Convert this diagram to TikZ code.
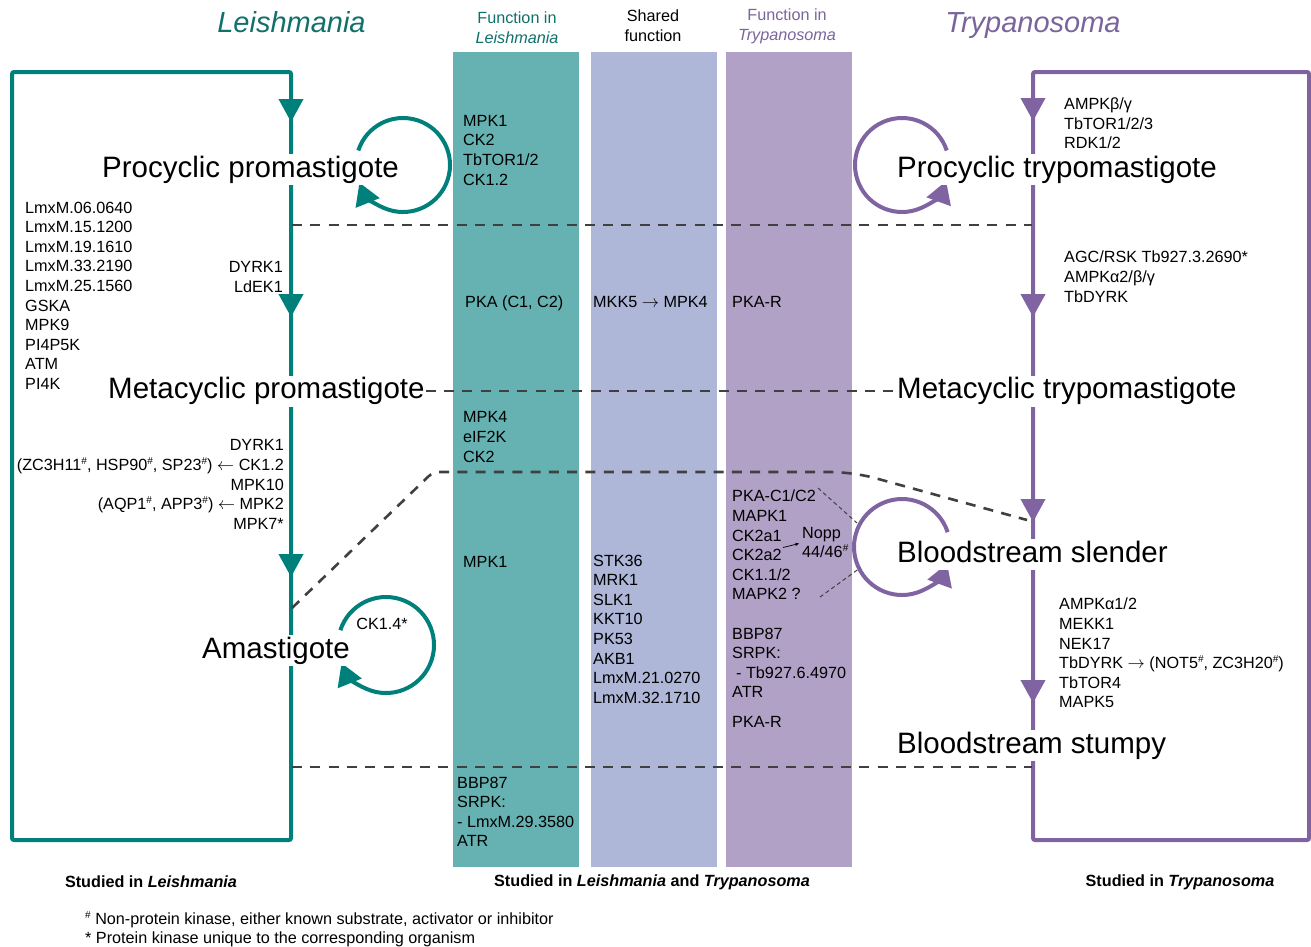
\documentclass[tikz,border=0pt]{standalone}
\usepackage{fontspec}
\setmainfont{Liberation Sans}
\usetikzlibrary{arrows.meta}
\definecolor{tealline}{RGB}{0,128,122}
\definecolor{tealtxt}{RGB}{16,112,106}
\definecolor{purpline}{RGB}{128,100,162}
\definecolor{purptxt}{RGB}{122,100,156}
\definecolor{tealcol}{RGB}{102,178,178}
\definecolor{lavcol}{RGB}{175,183,216}
\definecolor{purpcol}{RGB}{178,161,198}
\definecolor{dashgray}{RGB}{64,64,64}
\newcommand{\supHash}{\raisebox{6pt}{\fontsize{10}{10}\selectfont\#}}
\newcommand{\rarr}{\ensuremath{\rightarrow}}
\newcommand{\larr}{\ensuremath{\leftarrow}}
\begin{document}
\begin{tikzpicture}[x=1pt,y=-1pt,
  small/.style={font=\fontsize{16.2}{19.6}\selectfont, inner sep=0pt, align=left},
  stage/.style={font=\fontsize{29.5}{34}\selectfont, fill=white, inner xsep=1pt, inner ysep=2pt, text height=21pt, text depth=6pt, anchor=base west},
  titletext/.style={font=\fontsize{29}{34}\selectfont\itshape, inner sep=0pt, anchor=base},
  bottomtext/.style={font=\bfseries\fontsize{16.2}{19}\selectfont, inner sep=0pt},
  colbox/.style={draw=none, inner sep=0pt, minimum width=126pt, minimum height=815pt},
  frameT/.style={draw=tealline, line width=4pt, rounded corners=2pt},
  frameP/.style={draw=purpline, line width=4pt, rounded corners=2pt},
  loopT/.style={draw=tealline, line width=4pt, -{Triangle[length=22pt,width=25pt]}},
  loopP/.style={draw=purpline, line width=4pt, -{Triangle[length=22pt,width=25pt]}},
  varrowT/.style={draw=tealline, fill=tealline, line width=4pt, -{Triangle[length=23pt,width=24pt]}},
  varrowP/.style={draw=purpline, fill=purpline, line width=4pt, -{Triangle[length=23pt,width=24pt]}},
  dashline/.style={draw=dashgray, line width=2.6pt, dash pattern=on 10pt off 8.3pt},
  thindash/.style={draw=dashgray, line width=1pt, dash pattern=on 4pt off 3pt},
  tinyarrow/.style={draw=black, line width=0.7pt, -{Stealth[length=4pt,width=3.5pt]}}
]
\useasboundingbox (0,0) rectangle (1311,946);

% columns
\node[colbox, fill=tealcol] (colL) at (516,459.5) {};
\node[colbox, fill=lavcol] (colS) at (654,459.5) {};
\node[colbox, fill=purpcol] (colT) at (789,459.5) {};

% frames
\draw[frameT] (12,72) rectangle (291,840);
\draw[frameP] (1033,72) rectangle (1309,840);

% loops
\coordinate (cLp) at (403,165);
\coordinate (cLa) at (386,645);
\coordinate (cTp) at (902,165);
\coordinate (cTs) at (902,547);
\draw[loopT] (cLp) ++(-162:47) arc[start angle=-162, end angle=158, radius=47];
\draw[loopT] (cLa) ++(-162:48) arc[start angle=-162, end angle=158, radius=48];
\draw[loopP] (cTp) ++(-18:47) arc[start angle=-18, end angle=-340, radius=47];
\draw[loopP] (cTs) ++(-18:48) arc[start angle=-18, end angle=-340, radius=48];

% vertical arrowheads
\draw[varrowT] (291,96) -- (291,122);
\draw[varrowT] (291,291) -- (291,317);
\draw[varrowT] (291,551) -- (291,577);
\draw[varrowP] (1033,95) -- (1033,121);
\draw[varrowP] (1033,291) -- (1033,317);
\draw[varrowP] (1033,496) -- (1033,522);
\draw[varrowP] (1033,677) -- (1033,703);

% dashed separators
\coordinate (dA1) at (292,225);  \coordinate (dA2) at (1032,225);
\coordinate (dC1) at (292,608);  \coordinate (dC2) at (433,472);
\coordinate (dC3) at (853,472);  \coordinate (dC4) at (1027,520);
\coordinate (dD1) at (292,767);  \coordinate (dD2) at (1032,767);
\draw[dashline] (dA1) -- (dA2);
\draw[dashline, rounded corners=6pt] (dC1) -- (dC2) [rounded corners=22pt] -- (dC3) -- (dC4);
\draw[dashline] (dD1) -- (dD2);

% thin dashed lines and tiny arrow in Trypanosoma column
\coordinate (tdA1) at (818,488); \coordinate (tdA2) at (857,523);
\coordinate (tdB1) at (820,597); \coordinate (tdB2) at (860,568);
\draw[thindash] (tdA1) -- (tdA2);
\draw[thindash] (tdB1) -- (tdB2);
\coordinate (nA) at (783,547.5); \coordinate (nB) at (799,543.5);
\draw[tinyarrow] (nA) -- (nB);

% stage labels
\node[stage] (procL) at (101,177) {Procyclic promastigote};
\node[stage] (metaL) at (107,398.5) {Metacyclic promastigote};
\node[stage] (amaL) at (201,658) {Amastigote};
\node[stage] (procT) at (896,177) {Procyclic trypomastigote};
\node[stage] (metaT) at (896,398.5) {Metacyclic trypomastigote};
\node[stage] (slenT) at (896,562) {Bloodstream slender};
\node[stage] (stumT) at (896,753) {Bloodstream stumpy};
\draw[dashline] (metaL.east) -- (metaT.west);

% titles and headers
\node[titletext, text=tealtxt] (titL) at (291.5,32) {Leishmania};
\node[titletext, text=purptxt] (titT) at (1033,32) {Trypanosoma};
\node[small, align=center, anchor=north, text=tealtxt] (hL) at (517,11.7) {Function in\\\textit{Leishmania}};
\node[small, align=center, anchor=north] (hS) at (653,10) {Shared\\function};
\node[small, align=center, anchor=north, text=purptxt] (hT) at (787,8.5) {Function in\\\textit{Trypanosoma}};

% Leishmania-only lists
\node[small, anchor=north west] (llist) at (25,201.5) {LmxM.06.0640\\LmxM.15.1200\\LmxM.19.1610\\LmxM.33.2190\\LmxM.25.1560\\GSKA\\MPK9\\PI4P5K\\ATM\\PI4K};
\node[small, anchor=north east, align=right] (lpm) at (283,261.5) {DYRK1\\LdEK1};
\node[small, anchor=north east, align=right] (lma) at (284,439.5) {DYRK1\\(ZC3H11\supHash, HSP90\supHash, SP23\supHash) \larr{} CK1.2\\MPK10\\(AQP1\supHash, APP3\supHash) \larr{} MPK2\\MPK7*};
\node[small] (ck14) at (382,624) {CK1.4*};

% Leishmania column
\node[small, anchor=north west] (t1) at (463,115) {MPK1\\CK2\\TbTOR1/2\\CK1.2};
\node[small, anchor=north west] (t2) at (465,296) {PKA (C1, C2)};
\node[small, anchor=north west] (t3) at (463,411.5) {MPK4\\eIF2K\\CK2};
\node[small, anchor=north west] (t4) at (463,556.5) {MPK1};
\node[small, anchor=north west] (t5) at (457,776.5) {BBP87\\SRPK:\\- LmxM.29.3580\\ATR};

% shared column
\node[small, anchor=north west] (s1) at (593,296) {MKK5 \rarr{} MPK4};
\node[small, anchor=north west] (s2) at (593,554.5) {STK36\\MRK1\\SLK1\\KKT10\\PK53\\AKB1\\LmxM.21.0270\\LmxM.32.1710};

% Trypanosoma column
\node[small, anchor=north west] (p1) at (732,296) {PKA-R};
\node[small, anchor=north west] (p2) at (732,490) {PKA-C1/C2\\MAPK1\\CK2a1\\CK2a2\\CK1.1/2\\MAPK2 ?};
\node[small, anchor=north west] (p3) at (802,527) {Nopp\\44/46\supHash};
\node[small, anchor=north west] (p4) at (732,627.5) {BBP87\\SRPK:\\\hspace*{4pt}- Tb927.6.4970\\ATR};
\node[small, anchor=north west] (p5) at (732,716.5) {PKA-R};

% Trypanosoma-only lists
\node[small, anchor=north west] (r1) at (1064,97.5) {AMPKβ/γ\\TbTOR1/2/3\\RDK1/2};
\node[small, anchor=north west] (r2) at (1064,251) {AGC/RSK Tb927.3.2690*\\AMPKα2/β/γ\\TbDYRK};
\node[small, anchor=north west] (r3) at (1059,598) {AMPKα1/2\\MEKK1\\NEK17\\TbDYRK \rarr{} (NOT5\supHash, ZC3H20\supHash)\\TbTOR4\\MAPK5};

% bottom labels
\node[bottomtext] (bL) at (151,882) {Studied in \textit{Leishmania}};
\node[bottomtext] (bM) at (652,882) {Studied in \textit{Leishmania} and \textit{Trypanosoma}};
\node[bottomtext] (bR) at (1180,882) {Studied in \textit{Trypanosoma}};
\node[small, anchor=north west] (fn) at (85,911) {\supHash{} Non-protein kinase, either known substrate, activator or inhibitor\\* Protein kinase unique to the corresponding organism};
\end{tikzpicture}
\end{document}
